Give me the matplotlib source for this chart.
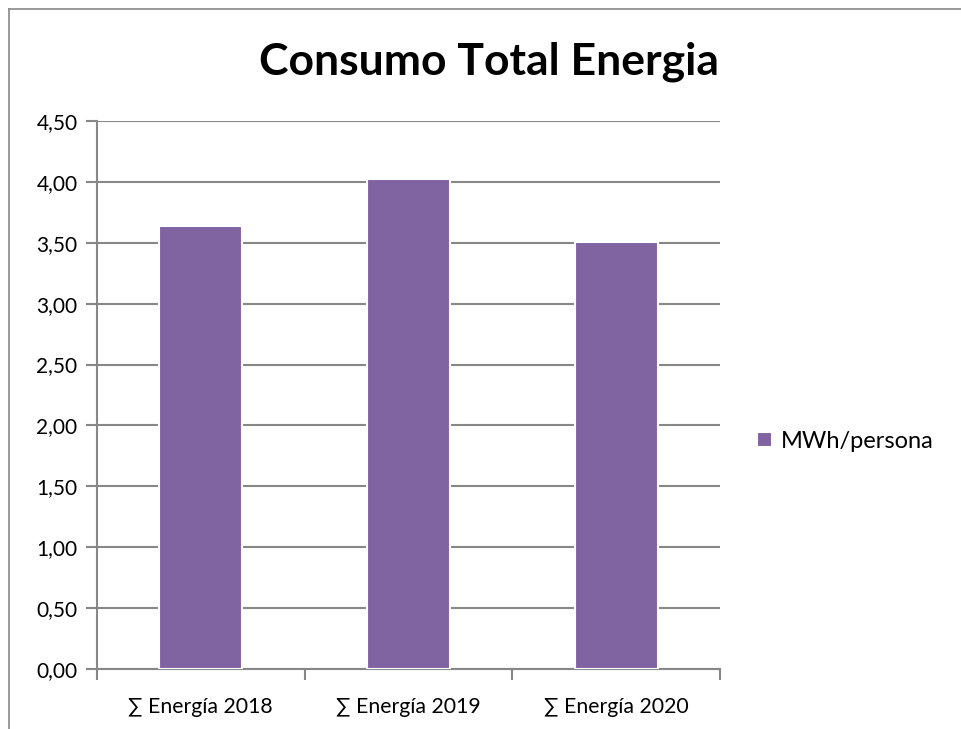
import matplotlib.pyplot as plt
import numpy as np

categories = ["∑ Energía 2018", "∑ Energía 2019", "∑ Energía 2020"]
values = [3.64, 4.02, 3.51]
series_name = "MWh/persona"
yticks = [0, 0.5, 1.0, 1.5, 2.0, 2.5, 3.0, 3.5, 4.0, 4.5]

plt.rcParams['font.family'] = ['Lato', 'DejaVu Sans']

fig = plt.figure(figsize=(9.62, 7.29), dpi=100)
ax = fig.add_axes([0.1008, 0.0823, 0.6476, 0.7517])

x = np.arange(len(categories))
ax.bar(x, values, width=0.4, color="#8064A2", edgecolor="white", linewidth=1.5,
       label=series_name, zorder=3)

ax.set_xlim(-0.5, len(categories) - 0.5)
ax.set_ylim(0, 4.5)
ax.set_yticks(yticks)
ax.set_yticklabels([f"{v:.2f}".replace(".", ",") for v in yticks], fontsize=15)
ax.yaxis.grid(True, color="#878787", linewidth=1.5, zorder=0)

# category labels at centres, tick marks at boundaries
ax.set_xticks(x)
ax.set_xticklabels(categories, fontsize=15.3)
ax.tick_params(axis="x", length=0, pad=20)
ax.set_xticks(np.arange(-0.5, len(categories)), minor=True)
ax.tick_params(axis="x", which="minor", length=8, color="#878787", width=1.5)
ax.tick_params(axis="y", length=8, color="#878787", width=1.5, pad=6)

for s in ["top", "right"]:
    ax.spines[s].set_visible(False)
for s in ["left", "bottom"]:
    ax.spines[s].set_color("#878787")
    ax.spines[s].set_linewidth(1.5)

fig.text(0.508, 0.915, "Consumo Total Energia", ha="center", va="center",
         fontsize=32, fontweight="bold")

ax.legend(loc="center left", bbox_to_anchor=(1.06, 0.415), frameon=False,
          fontsize=17, handlelength=0.6, handleheight=0.6, handletextpad=0.4,
          borderpad=0, borderaxespad=0)

# outer chart border (top and left visible)
fig.add_artist(plt.Line2D([0.0094, 1.0], [0.9877, 0.9877], color="#878787", linewidth=1.2))
fig.add_artist(plt.Line2D([0.0094, 0.0094], [0.0, 0.9877], color="#878787", linewidth=1.2))

fig.savefig("out.png", dpi=100)
